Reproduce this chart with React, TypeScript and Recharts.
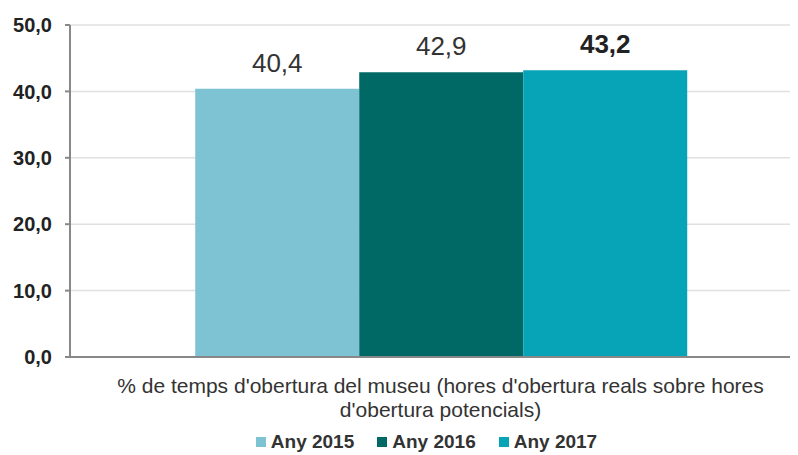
import { Bar, BarChart, CartesianGrid, LabelList, Legend, XAxis, YAxis } from "recharts";

const categories = [
  "% de temps d'obertura del museu (hores d'obertura reals sobre hores d'obertura potencials)",
];
const any2015 = [40.4];
const any2016 = [42.9];
const any2017 = [43.2];
const yTicks = [0, 10, 20, 30, 40, 50];

const series = [
  { key: "y2015", name: "Any 2015", color: "#7ec3d3", bold: false },
  { key: "y2016", name: "Any 2016", color: "#006966", bold: false },
  { key: "y2017", name: "Any 2017", color: "#07a4b7", bold: true },
];

const data = categories.map((c, i) => ({
  cat: c,
  y2015: any2015[i],
  y2016: any2016[i],
  y2017: any2017[i],
}));

const FONT = "'Liberation Sans', Arial, sans-serif";
const fmt = (v: number) => v.toFixed(1).replace(".", ",");

function CatTick({ x, y, payload }: any) {
  // Excel wraps the long category label onto two lines
  const full: string = payload.value;
  const cut = full.indexOf(" d'obertura potencials");
  const lines = cut > 0 ? [full.slice(0, cut), full.slice(cut + 1)] : [full];
  return (
    <text x={x} y={y} textAnchor="middle" fill="#333" fontSize={21} fontFamily={FONT}>
      {lines.map((l, i) => (
        <tspan key={i} x={x} dy={i === 0 ? 28 : 24}>{l}</tspan>
      ))}
    </text>
  );
}

function makeLabel(bold: boolean) {
  return (props: any) => {
    const { x, y, width, value } = props;
    return (
      <text
        x={x + width / 2}
        y={y - 17}
        textAnchor="middle"
        fill={bold ? "#222" : "#333"}
        fontSize={26}
        fontWeight={bold ? "bold" : "normal"}
        fontFamily={FONT}
      >
        {fmt(Number(value))}
      </text>
    );
  };
}

function LegendBox() {
  return (
    <div style={{ display: "flex", justifyContent: "center", gap: 23, fontFamily: FONT, fontSize: 19, fontWeight: "bold", color: "#333", lineHeight: "20px", paddingLeft: 34, marginTop: -3 }}>
      {series.map((s) => (
        <span key={s.key} style={{ display: "flex", alignItems: "center", gap: 5 }}>
          <span style={{ width: 10, height: 10, background: s.color, display: "inline-block" }} />
          {s.name}
        </span>
      ))}
    </div>
  );
}

export default function App() {
  return (
    <div style={{ width: 790, height: 447, overflow: "hidden" }}>
      <BarChart
        width={810}
        height={447}
        data={data}
        margin={{ top: 17, right: 7, left: 0, bottom: 0 }}
        barCategoryGap="16.9%"
        barGap={0}
      >
        <CartesianGrid vertical={false} stroke="#e0e0e0" strokeWidth={1.5} />
        <XAxis
          dataKey="cat"
          tick={<CatTick />}
          tickLine={false}
          axisLine={{ stroke: "#888", strokeWidth: 2 }}
          height={78}
          interval={0}
        />
        <YAxis
          domain={[0, 50]}
          ticks={yTicks}
          tickFormatter={fmt}
          width={62}
          tickSize={5}
          tickMargin={13}
          axisLine={{ stroke: "#888", strokeWidth: 2 }}
          tickLine={{ stroke: "#888", strokeWidth: 2 }}
          tick={{ fill: "#222", fontSize: 20, fontWeight: "bold", fontFamily: FONT }}
        />
        <Legend verticalAlign="bottom" height={20} content={<LegendBox />} />
        {series.map((s) => (
          <Bar key={s.key} dataKey={s.key} name={s.name} fill={s.color} isAnimationActive={false}>
            <LabelList dataKey={s.key} content={makeLabel(s.bold)} />
          </Bar>
        ))}
      </BarChart>
    </div>
  );
}
